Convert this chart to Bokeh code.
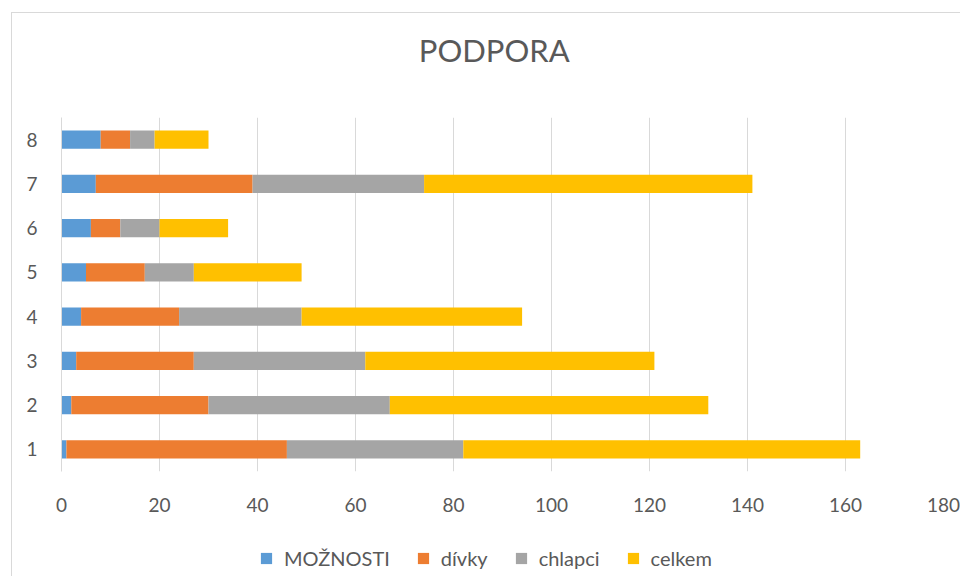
from bokeh.plotting import figure
from bokeh.layouts import column
from bokeh.models import (ColumnDataSource, Legend, LegendItem, FixedTicker, Range1d)
from bokeh.core.properties import value
from bokeh.embed import file_html
from bokeh.resources import INLINE

categories = [1, 2, 3, 4, 5, 6, 7, 8]
moznosti = [1, 2, 3, 4, 5, 6, 7, 8]
divky = [45, 28, 24, 20, 12, 6, 32, 6]
chlapci = [36, 37, 35, 25, 10, 8, 35, 5]
celkem = [81, 65, 59, 45, 22, 14, 67, 11]
series = ["MOŽNOSTI", "dívky", "chlapci", "celkem"]
colors = ["#5B9BD5", "#ED7D31", "#A5A5A5", "#FFC000"]
x_ticks = [0, 20, 40, 60, 80, 100, 120, 140, 160, 180]
title_text = "PODPORA"

FONT = "Lato"
TXT = "#595959"
GRID = "#D9D9D9"
W = 960


def strip(height):
    f = figure(width=W, height=height, output_backend="svg", toolbar_location=None,
               x_range=Range1d(0, W), y_range=Range1d(0, height),
               x_axis_location=None, y_axis_location=None,
               min_border_left=0, min_border_right=0, min_border_top=0,
               min_border_bottom=0)
    f.grid.visible = False
    f.outline_line_color = None
    f.background_fill_color = None
    f.border_fill_color = None
    return f


# title strip
TH = 80
tf = strip(TH)
tf.text(x=[471], y=[TH - 49], text=[title_text], text_font=value(FONT),
        text_font_size="31px", text_color=TXT, text_align="center",
        text_baseline="middle")

source = ColumnDataSource(dict(y=categories, **{
    series[0]: moznosti, series[1]: divky, series[2]: chlapci, series[3]: celkem}))

p = figure(width=W, height=530 - TH, output_backend="svg", toolbar_location=None,
           x_range=Range1d(0, 180), y_range=Range1d(0.5, 8.5),
           min_border_left=61, min_border_right=17, min_border_top=117 - TH,
           min_border_bottom=59)

renderers = p.hbar_stack(series, y="y", height=0.41, color=colors, source=source,
                         line_width=0)

p.outline_line_color = None
p.background_fill_color = "white"
p.border_fill_color = None

p.xgrid.ticker = FixedTicker(ticks=x_ticks)
p.xgrid.grid_line_color = GRID
p.xgrid.grid_line_width = 1
p.ygrid.grid_line_color = None

p.xaxis.ticker = FixedTicker(ticks=x_ticks)
p.xaxis.axis_line_color = None
p.xaxis.major_tick_line_color = None
p.xaxis.minor_tick_line_color = None
p.xaxis.major_tick_out = 0
p.xaxis.major_label_standoff = 26
p.xaxis.major_label_text_font = FONT
p.xaxis.major_label_text_font_size = "19px"
p.xaxis.major_label_text_color = TXT

p.yaxis.ticker = FixedTicker(ticks=categories)
p.yaxis.axis_line_color = GRID
p.yaxis.major_tick_line_color = None
p.yaxis.minor_tick_line_color = None
p.yaxis.major_tick_out = 0
p.yaxis.major_label_standoff = 24
p.yaxis.major_label_text_font = FONT
p.yaxis.major_label_text_font_size = "19px"
p.yaxis.major_label_text_color = TXT

# legend strip below the chart
lf = strip(46)
dummies = [lf.hbar(y=[-50], left=[0], right=[1], height=1, color=c, line_width=0)
           for c in colors]

legend = Legend(items=[LegendItem(label=s, renderers=[r]) for s, r in zip(series, dummies)],
                orientation="horizontal", location=(198, 6),
                label_text_font=FONT, label_text_font_size="20px",
                label_text_color=TXT, glyph_width=14, glyph_height=14,
                label_standoff=11, spacing=26, border_line_color=None,
                margin=0, padding=0, background_fill_alpha=0)
lf.add_layout(legend)

layout = column(tf, p, lf, spacing=0, styles={
    "background": ("linear-gradient(#D9D9D9, #D9D9D9) 11px 12px / 1px 100% no-repeat, "
                   "linear-gradient(#D9D9D9, #D9D9D9) 11px 12px / 100% 1px no-repeat")})

open("out.html", "w").write(file_html(layout, INLINE))
